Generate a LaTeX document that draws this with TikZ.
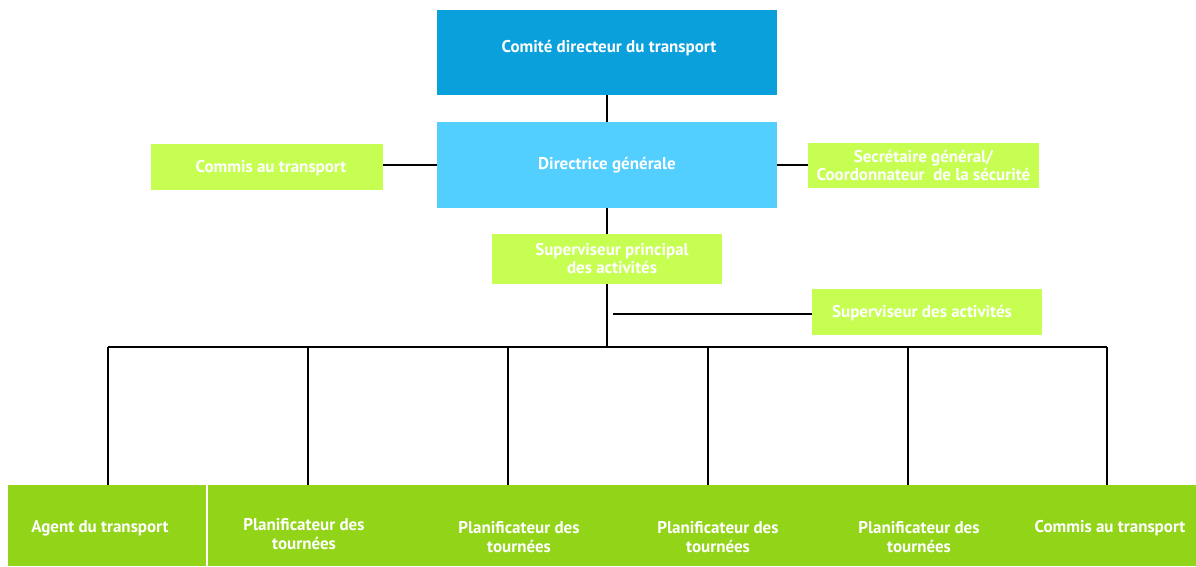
\documentclass[tikz,border=0pt]{standalone}
\usepackage{fontspec}
\setmainfont{PT Sans}
\definecolor{topblue}{HTML}{0AA0DC}
\definecolor{lightblue}{HTML}{52CEFF}
\definecolor{lime}{HTML}{C6FF52}
\definecolor{leaf}{HTML}{92D418}
\tikzset{
  box/.style={rectangle, inner sep=2pt, align=center, text=white, font=\bfseries\fontsize{17}{19}\selectfont},
  link/.style={draw=black, line width=1.6pt},
  trunk/.style={draw=black, line width=2.8pt}
}
\begin{document}
\begin{tikzpicture}[x=1pt,y=-1pt]
\useasboundingbox (0,0) rectangle (1196,566);
\fill[white] (0,0) rectangle (1196,566);
% top
\node[box, fill=topblue, minimum width=340pt, minimum height=85pt] (cdt) at (607,52.5) {};
\node[box] (cdtt) at (609,48) {Comité directeur du transport};
\node[box, fill=lightblue, minimum width=340pt, minimum height=86pt] (dg) at (607,165) {Directrice générale};
\node[box, fill=lime, minimum width=232pt, minimum height=46pt] (cat) at (267,167) {};
\node[box] (catt) at (271,168) {Commis au transport};
\node[box, fill=lime, minimum width=231pt, minimum height=45pt, font=\bfseries\fontsize{17}{18}\selectfont] (sg) at (923.5,165.5) {Secrétaire général/\\Coordonnateur\ \ de la sécurité};
\node[box, fill=lime, minimum width=230pt, minimum height=50pt] (spa) at (607,259) {};
\node[box, font=\bfseries\fontsize{17}{18}\selectfont] (spat) at (612,259) {Superviseur principal\\des activités};
\node[box, fill=lime, minimum width=230pt, minimum height=46pt] (sa) at (927,312) {};
\node[box] (sat) at (922,313) {Superviseur des activités};
% bottom row
\node[box, fill=leaf, minimum width=198pt, minimum height=81pt] (b1) at (107,525.5) {};
\node[box] (t1) at (100,528) {Agent du transport};
\node[box, fill=leaf, minimum width=192pt, minimum height=81pt, anchor=west] (b2) at (208,525.5) {};
\node[box, fill=leaf, minimum width=238pt, minimum height=81pt, anchor=west] (b3) at (400,525.5) {};
\node[box, fill=leaf, minimum width=160pt, minimum height=81pt, anchor=west] (b4) at (638,525.5) {};
\node[box, fill=leaf, minimum width=242pt, minimum height=81pt, anchor=west] (b5) at (798,525.5) {};
\node[box, fill=leaf, minimum width=156pt, minimum height=81pt, anchor=west] (b6) at (1040,525.5) {};
\node[box] (t2) at (304,534) {Planificateur des\\tournées};
\node[box] (t3) at (519,537) {Planificateur des\\tournées};
\node[box] (t4) at (718,537) {Planificateur des\\tournées};
\node[box] (t5) at (919,537) {Planificateur des\\tournées};
\node[box] (t6) at (1110,528) {Commis au transport};
% connectors
\draw[link] (cdt.south) -- (dg.north);
\draw[link] (dg.west) -- (cat.east |- dg.west);
\draw[link] (dg.east) -- (sg.west |- dg.east);
\draw[trunk] (dg.south) -- (spa.north);
\coordinate (bus) at (607,347);
\coordinate (busL) at (108,347);
\coordinate (busR) at (1107,347);
\draw[trunk] (spa.south) -- (bus);
\draw[link] (613,314) coordinate (br) -- (sa.west |- br);
\draw[link] (busL) -- (busR);
\draw[link] (busL) -- (108,485);
\draw[link] (308,347) -- (308,485);
\draw[link] (508,347) -- (508,485);
\draw[link] (708,347) -- (708,485);
\draw[link] (908,347) -- (908,485);
\draw[link] (busR) -- (1107,485);
\end{tikzpicture}
\end{document}
